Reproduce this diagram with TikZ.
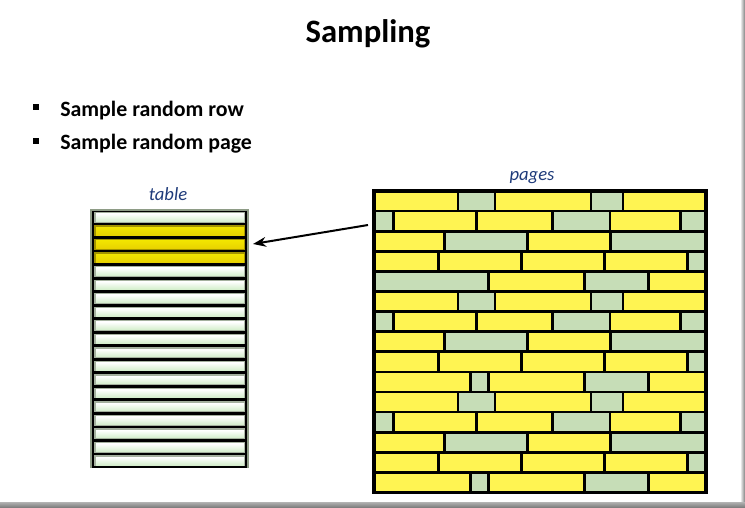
\documentclass[tikz,border=0pt]{standalone}
\usepackage{fontspec}
\setmainfont{Carlito}
\usetikzlibrary{arrows.meta, positioning}
\definecolor{brickY}{HTML}{FFF452}
\definecolor{brickG}{HTML}{C6DDB7}
\definecolor{rowG}{HTML}{D4EECC}
\definecolor{rowY}{HTML}{E8D200}
\definecolor{edgeG}{HTML}{8E9C86}
\definecolor{labelBlue}{HTML}{1F3B7A}

\begin{document}
\begin{tikzpicture}[x=0.75pt, y=-0.75pt, >=Stealth,
    brick/.style={draw=black, line width=2pt},
    label/.style={font=\fontsize{14}{16}\selectfont\itshape, text=labelBlue, inner sep=0pt},
    bullet/.style={font=\fontsize{16.4}{19}\selectfont\bfseries, inner sep=0pt, anchor=base west}]
  \useasboundingbox (0,0) rectangle (745,507);
  % Frame shadow
  \shade[left color=white, right color=gray] (740,0) rectangle (745,507);
  \shade[top color=gray!60, bottom color=gray] (0,502) rectangle (745,507);
  % Title and bullets
  \node[font=\fontsize{24.5}{29}\selectfont\bfseries, anchor=base, inner sep=0pt] (title) at (368,42) {Sampling};
  \node[bullet] (b1) at (60,116) {Sample random row};
  \node[bullet] (b2) at (60,149) {Sample random page};
  \fill (32.5,104) rectangle (38.5,110);
  \fill (32.5,138) rectangle (38.5,144);
  % Table
  \node[label, anchor=base] (tablelabel) at (168,200) {table};
  \fill[edgeG] (90,209) rectangle (249,468);
  \fill[black] (92,210.5) rectangle (247,467.5);
  \foreach \i in {0,4,5,...,18} {
    \pgfmathsetmacro\yy{210.5+\i*13.53}
    \fill[edgeG!80!white] (94,\yy+1.4) rectangle (245,\yy+12.1);
    \shade[top color=white, bottom color=rowG] (96,\yy+3.2) rectangle (244,\yy+11);
  }
  \foreach \i in {1,2,3} {
    \pgfmathsetmacro\yy{210.5+\i*13.53}
    \fill[rowY!70!black] (94,\yy+1.4) rectangle (245,\yy+12.1);
    \shade[top color=rowY!60!yellow, bottom color=rowY] (96,\yy+3.2) rectangle (244,\yy+11);
  }
  % Pages
  \node[label, anchor=base] (pageslabel) at (532,180) {pages};
  \foreach \k in {0,5,10} {
    \foreach \a/\b/\c in {374/458/brickY, 458/495/brickG, 495/591/brickY, 591/623/brickG, 623/706/brickY}
      \draw[brick, fill=\c] (\a,{191+\k*20.1}) rectangle (\b,{191+(\k+1)*20.1});
    \foreach \a/\b/\c in {374/393.5/brickG, 393.5/476.5/brickY, 476.5/552.5/brickY, 552.5/610/brickG, 610/680.5/brickY, 680.5/706/brickG}
      \draw[brick, fill=\c] (\a,{191+(\k+1)*20.1}) rectangle (\b,{191+(\k+2)*20.1});
    \foreach \a/\b/\c in {374/444.5/brickY, 444.5/527.5/brickG, 527.5/610.5/brickY, 610.5/706/brickG}
      \draw[brick, fill=\c] (\a,{191+(\k+2)*20.1}) rectangle (\b,{191+(\k+3)*20.1});
    \foreach \a/\b/\c in {374/438.5/brickY, 438.5/521.5/brickY, 521.5/604.5/brickY, 604.5/687.5/brickY, 687.5/706/brickG}
      \draw[brick, fill=\c] (\a,{191+(\k+3)*20.1}) rectangle (\b,{191+(\k+4)*20.1});
  }
  \foreach \a/\b/\c in {374/488.5/brickG, 488.5/584.5/brickY, 584.5/648.5/brickG, 648.5/706/brickY}
    \draw[brick, fill=\c] (\a,{191+4*20.1}) rectangle (\b,{191+5*20.1});
  \foreach \k in {9,14} {
    \foreach \a/\b/\c in {374/470.5/brickY, 470.5/488.5/brickG, 488.5/584.5/brickY, 584.5/648.5/brickG, 648.5/706/brickY}
      \draw[brick, fill=\c] (\a,{191+\k*20.1}) rectangle (\b,{191+(\k+1)*20.1});
  }
  \draw[line width=2.4pt] (374,191) rectangle (706,492.5);
  % Arrow
  \coordinate (pagesW) at (368,225);
  \coordinate (tableE) at (253,244);
  \draw[->, line width=1.5pt] (pagesW) -- (tableE);
\end{tikzpicture}
\end{document}
